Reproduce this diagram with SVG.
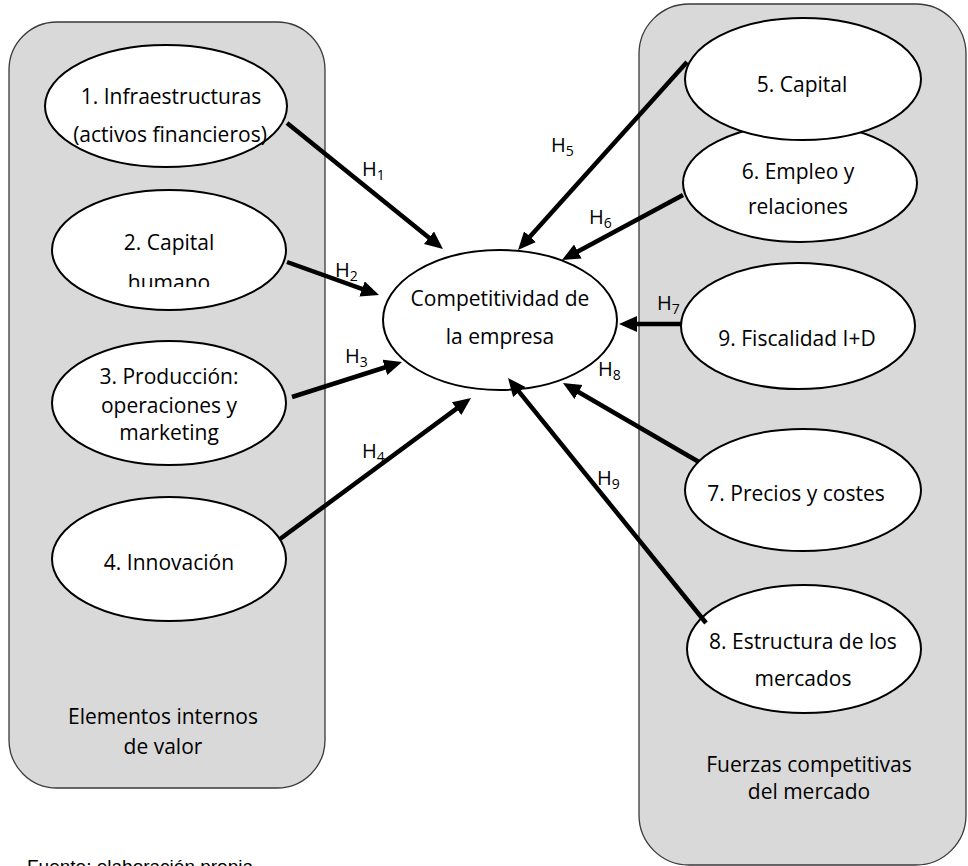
<svg xmlns="http://www.w3.org/2000/svg" width="968" height="866" viewBox="0 0 968 866">
<style>
.box{fill:#d9d9d9;stroke:#3a3a3a;stroke-width:1.3}
.node{fill:#fff;stroke:#000;stroke-width:2}
.t{font-family:"Open Sans","Noto Sans","Liberation Sans",sans-serif;font-size:21px;fill:#000;text-anchor:middle}
.h{font-family:"Open Sans","Noto Sans","Liberation Sans",sans-serif;font-size:20px;fill:#000}
.h tspan{font-size:14px}
.c{stroke:#000;stroke-width:4.5;fill:none;marker-end:url(#ah)}
</style>
<defs>
<marker id="ah" markerUnits="userSpaceOnUse" markerWidth="20" markerHeight="18" refX="8" refY="8" orient="auto">
<path d="M0,0 L18,8 L0,16 z" fill="#000"/>
</marker>
<clipPath id="clip2"><rect x="0" y="0" width="330" height="287"/></clipPath>
</defs>
<g id="box-left"><rect class="box" x="9" y="22" width="316" height="766" rx="48" ry="48"/>
<text class="t" x="163" y="724">Elementos internos</text><text class="t" x="163" y="754">de valor</text></g>
<g id="box-right"><rect class="box" x="639" y="4" width="327" height="861" rx="50" ry="50"/>
<text class="t" x="809" y="772">Fuerzas competitivas</text><text class="t" x="809" y="799">del mercado</text></g>
<g id="n1"><ellipse class="node" cx="166" cy="106" rx="121" ry="61"/>
<text class="t" x="171" y="104">1. Infraestructuras</text><text class="t" x="170" y="142">(activos financieros)</text></g>
<g id="n2"><ellipse class="node" cx="169" cy="250" rx="117" ry="60"/>
<text class="t" x="169" y="250">2. Capital</text><text class="t" x="169" y="290" clip-path="url(#clip2)">humano</text></g>
<g id="n3"><ellipse class="node" cx="169" cy="403" rx="117" ry="62"/>
<text class="t" x="169" y="384">3. Producción:</text><text class="t" x="169" y="413">operaciones y</text><text class="t" x="169" y="440">marketing</text></g>
<g id="n4"><ellipse class="node" cx="169" cy="559" rx="117" ry="62"/>
<text class="t" x="169" y="570">4. Innovación</text></g>
<g id="nc"><ellipse class="node" cx="500" cy="320" rx="117" ry="70"/>
<text class="t" x="500" y="306">Competitividad de</text><text class="t" x="500" y="344">la empresa</text></g>
<g id="n6"><ellipse class="node" cx="800" cy="183" rx="117" ry="59"/>
<text class="t" x="798" y="179">6. Empleo y</text><text class="t" x="798" y="214">relaciones</text></g>
<g id="n5"><ellipse class="node" cx="803" cy="79" rx="118" ry="61"/>
<text class="t" x="802" y="92">5. Capital</text></g>
<g id="n9"><ellipse class="node" cx="798" cy="326" rx="117" ry="63"/>
<text class="t" x="797" y="346">9. Fiscalidad I+D</text></g>
<g id="n7"><ellipse class="node" cx="803" cy="490" rx="118" ry="61"/>
<text class="t" x="796" y="501">7. Precios y costes</text></g>
<g id="n8"><ellipse class="node" cx="804" cy="649" rx="117" ry="64"/>
<text class="t" x="803" y="649">8. Estructura de los</text><text class="t" x="803" y="686">mercados</text></g>
<g id="connectors">
<line class="c" x1="287" y1="123" x2="435.2" y2="242.7"/>
<line class="c" x1="287" y1="262" x2="369.6" y2="291.6"/>
<line class="c" x1="292" y1="397" x2="392.5" y2="365"/>
<line class="c" x1="280" y1="539" x2="463" y2="403.9"/>
<line class="c" x1="687" y1="62" x2="524.7" y2="242.6"/>
<line class="c" x1="683" y1="195" x2="570.8" y2="255.3"/>
<line class="c" x1="681" y1="324" x2="629" y2="324"/>
<line class="c" x1="699" y1="462" x2="571.6" y2="388"/>
<line class="c" x1="706" y1="623" x2="514.3" y2="385.8"/>
<text class="h" x="362" y="176">H<tspan dy="4">1</tspan></text>
<text class="h" x="335" y="277">H<tspan dy="4">2</tspan></text>
<text class="h" x="345" y="363">H<tspan dy="4">3</tspan></text>
<text class="h" x="362" y="458">H<tspan dy="4">4</tspan></text>
<text class="h" x="551" y="152">H<tspan dy="4">5</tspan></text>
<text class="h" x="589" y="224">H<tspan dy="4">6</tspan></text>
<text class="h" x="657" y="310">H<tspan dy="4">7</tspan></text>
<text class="h" x="598" y="376">H<tspan dy="4">8</tspan></text>
<text class="h" x="597" y="485">H<tspan dy="4">9</tspan></text>
</g>
<text x="27" y="873" style="font-family:'Liberation Sans',Arial,sans-serif;font-size:19px;fill:#000">Fuente: elaboración propia</text>
</svg>
